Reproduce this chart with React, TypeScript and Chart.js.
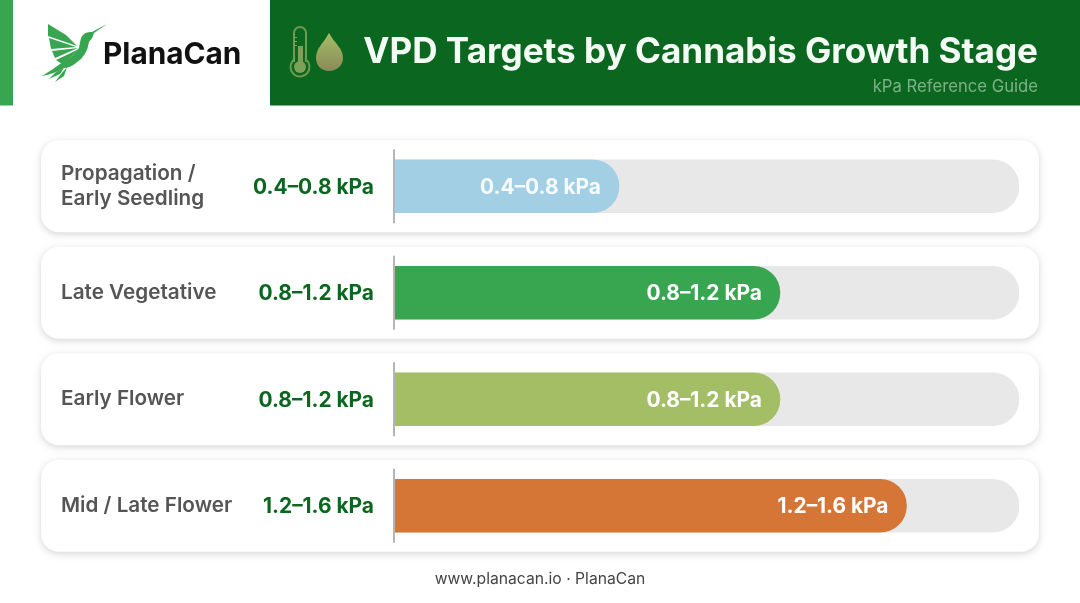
import { useEffect, useRef } from "react"
import { Chart, registerables } from "chart.js"

Chart.register(...registerables)

const stages = [["Propagation /", "Early Seedling"], "Late Vegetative", "Early Flower", "Mid / Late Flower"]
const rangeLabels = ["0.4–0.8 kPa", "0.8–1.2 kPa", "0.8–1.2 kPa", "1.2–1.6 kPa"]
const barValues = [0.72, 1.235, 1.235, 1.64]
const trackValues = [2, 2, 2, 2]
const barColors = ["#A3CFE4", "#38A651", "#A4BE66", "#D67636"]

const FONT = "Inter, 'Noto Sans', sans-serif"

function polygon(ctx: CanvasRenderingContext2D, pts: number[][]) {
  ctx.beginPath()
  pts.forEach(([x, y], i) => (i ? ctx.lineTo(x, y) : ctx.moveTo(x, y)))
  ctx.closePath()
  ctx.fill()
}

function drawBird(ctx: CanvasRenderingContext2D) {
  ctx.fillStyle = "#38A651"
  // wing feathers
  polygon(ctx, [[48, 24], [66, 35], [77, 46], [48, 36]])
  polygon(ctx, [[49, 38], [76, 47], [51, 49]])
  polygon(ctx, [[52, 51], [78, 48], [55, 58]])
  polygon(ctx, [[56, 60], [79, 49], [68, 60], [62, 64]])
  // body and beak
  ctx.beginPath()
  ctx.moveTo(107, 24)
  ctx.lineTo(94, 33)
  ctx.quadraticCurveTo(93, 38, 89, 42)
  ctx.quadraticCurveTo(87, 56, 76, 63)
  ctx.quadraticCurveTo(70, 68, 64, 68)
  ctx.quadraticCurveTo(54, 74, 42, 76)
  ctx.quadraticCurveTo(52, 70, 60, 64)
  ctx.quadraticCurveTo(70, 60, 79, 48)
  ctx.quadraticCurveTo(80, 42, 81, 38)
  ctx.quadraticCurveTo(84, 31, 92, 32)
  ctx.closePath()
  ctx.fill()
  // tail
  polygon(ctx, [[64, 68], [60, 74], [49, 79], [56, 72]])
  polygon(ctx, [[67, 67], [64, 76], [55, 82], [61, 74]])
}

function drawIcons(ctx: CanvasRenderingContext2D) {
  // thermometer
  ctx.strokeStyle = "#6F9A50"
  ctx.lineWidth = 2
  ctx.beginPath()
  ctx.moveTo(294, 62)
  ctx.lineTo(294, 33)
  ctx.arc(300, 33, 6, Math.PI, 0)
  ctx.lineTo(306, 62)
  ctx.arc(300, 67, 9.5, -0.9, Math.PI + 0.9)
  ctx.closePath()
  ctx.stroke()
  ctx.fillStyle = "#7FA058"
  ctx.fillRect(298, 46, 5, 20)
  ctx.beginPath()
  ctx.arc(300, 67, 6, 0, Math.PI * 2)
  ctx.fill()
  ctx.fillRect(294, 37, 3, 1)
  ctx.fillRect(294, 41, 3, 1)
  ctx.fillRect(294, 45, 3, 1)
  // drop
  const grad = ctx.createLinearGradient(0, 33, 0, 71)
  grad.addColorStop(0, "#A4BE66")
  grad.addColorStop(1, "#8A8A58")
  ctx.fillStyle = grad
  ctx.beginPath()
  ctx.moveTo(329, 33)
  ctx.bezierCurveTo(323, 44, 316, 48, 316, 58)
  ctx.bezierCurveTo(316, 66, 322, 71, 329, 71)
  ctx.bezierCurveTo(336, 71, 343, 66, 343, 58)
  ctx.bezierCurveTo(343, 48, 335, 44, 329, 33)
  ctx.fill()
}

const pagePlugin = {
  id: "page",
  beforeDraw(chart: any) {
    const { ctx, scales, width, height } = chart
    ctx.save()
    ctx.fillStyle = "#FFFFFF"
    ctx.fillRect(0, 0, width, height)
    // header bands
    ctx.fillStyle = "#38A651"
    ctx.fillRect(0, 0, 13, 105.5)
    ctx.fillStyle = "#0B671F"
    ctx.fillRect(270, 0, 810, 105.5)
    drawBird(ctx)
    drawIcons(ctx)
    ctx.fillStyle = "#111111"
    ctx.font = `700 29.8px ${FONT}`
    ctx.textAlign = "left"
    ctx.textBaseline = "middle"
    ctx.fillText("PlanaCan", 103, 55)
    ctx.textAlign = "right"
    ctx.fillStyle = "#F4FBF4"
    ctx.font = `700 35.1px ${FONT}`
    ctx.fillText("VPD Targets by Cannabis Growth Stage", 1038, 52.5)
    ctx.fillStyle = "#7FAF88"
    ctx.font = `400 16.7px ${FONT}`
    ctx.fillText("kPa Reference Guide", 1038, 87)
    // one card behind each row
    stages.forEach((_, i) => {
      const y = scales.y.getPixelForValue(i)
      ctx.save()
      ctx.shadowColor = "rgba(0,0,0,0.16)"
      ctx.shadowBlur = 7
      ctx.shadowOffsetY = 2
      ctx.fillStyle = "#FFFFFF"
      ctx.beginPath()
      ctx.roundRect(41, y - 46, 998, 92, 18)
      ctx.fill()
      ctx.restore()
    })
    ctx.textAlign = "center"
    ctx.fillStyle = "#444444"
    ctx.font = `400 15.7px ${FONT}`
    ctx.fillText("www.planacan.io · PlanaCan", 540, 579.5)
    ctx.restore()
  },
  afterDatasetsDraw(chart: any) {
    const { ctx, scales } = chart
    const bars = chart.getDatasetMeta(1).data
    ctx.save()
    ctx.font = `700 20.9px ${FONT}`
    ctx.textAlign = "right"
    ctx.textBaseline = "middle"
    rangeLabels.forEach((label, i) => {
      const y = scales.y.getPixelForValue(i)
      ctx.fillStyle = "#B5B5B5"
      ctx.fillRect(393, y - 37, 2, 74)
      ctx.fillStyle = "#0B671F"
      ctx.fillText(label, 374, y + 1)
      ctx.fillStyle = "#FFFFFF"
      ctx.globalAlpha = i === 0 ? 0.9 : 1
      ctx.fillText(label, bars[i].x - 18, y + 1)
      ctx.globalAlpha = 1
    })
    ctx.restore()
  },
}

export default function App() {
  const canvasRef = useRef<HTMLCanvasElement>(null)

  useEffect(() => {
    if (!canvasRef.current) return
    const chart = new Chart(canvasRef.current, {
      type: "bar",
      data: {
        labels: stages,
        datasets: [
          {
            label: "Scale",
            data: trackValues,
            backgroundColor: "#E8E8E8",
            barThickness: 53,
            grouped: false,
            order: 2,
            borderRadius: 27,
          },
          {
            label: "VPD target",
            data: barValues,
            backgroundColor: barColors,
            barThickness: 53,
            grouped: false,
            order: 1,
            borderRadius: 27,
          },
        ],
      },
      options: {
        indexAxis: "y",
        responsive: false,
        animation: false,
        layout: { padding: { left: 61, right: 61, top: 133, bottom: 44 } },
        plugins: { legend: { display: false }, title: { display: false }, tooltip: { enabled: false } },
        scales: {
          x: { display: false, min: 0, max: 2 },
          y: {
            grid: { display: false },
            border: { display: false },
            afterFit: (axis: any) => {
              axis.width = 333
            },
            ticks: {
              crossAlign: "far",
              color: "#555555",
              font: { family: FONT, size: 20.7, weight: 600, lineHeight: 1.2 },
            },
          },
        },
      },
      plugins: [pagePlugin],
    })
    return () => chart.destroy()
  }, [])

  return (
    <div style={{ position: "fixed", left: 0, top: 0, width: 1080, height: 603 }}>
      <canvas ref={canvasRef} width={1080} height={603} role="img" aria-label="VPD targets by cannabis growth stage"></canvas>
    </div>
  )
}
